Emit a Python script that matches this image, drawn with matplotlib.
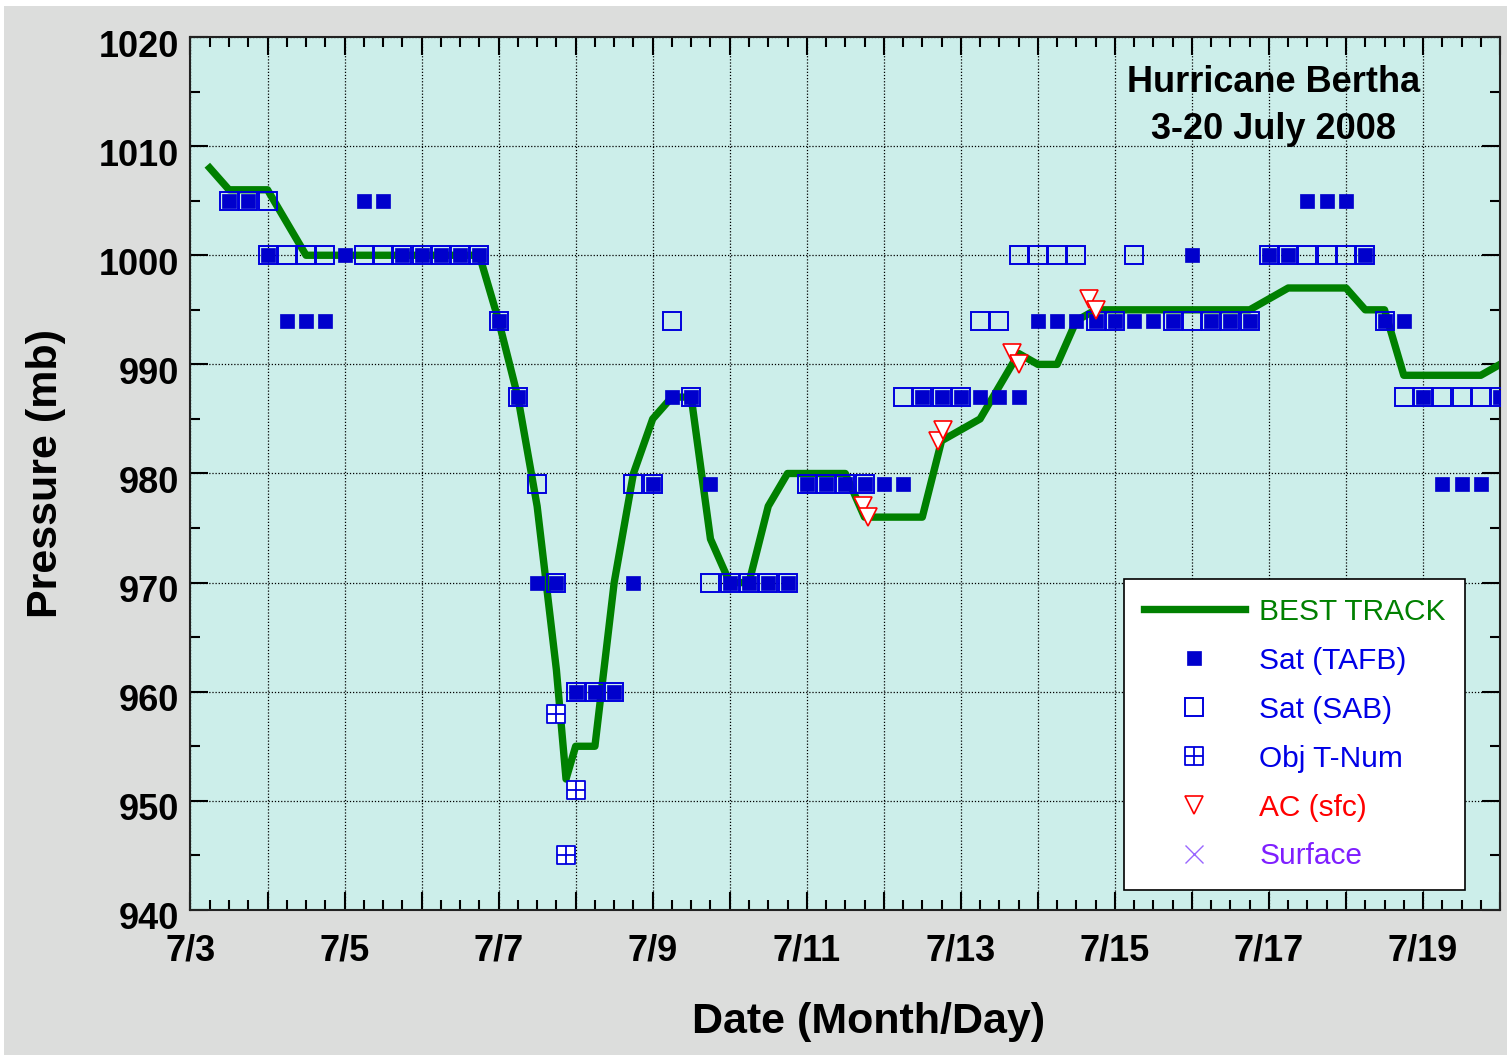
import matplotlib
matplotlib.use('Agg')
import matplotlib.pyplot as plt
import matplotlib.dates as mdates
from matplotlib.path import Path
from matplotlib.patches import Rectangle
from matplotlib.transforms import ScaledTranslation
import pandas as pd

plt.rcParams['font.family'] = ['Liberation Sans', 'DejaVu Sans']

# best track (time UTC, pressure mb)
best_time = ['07-03 06:00', '07-03 12:00', '07-03 18:00', '07-04 00:00', '07-04 06:00', '07-04 12:00',
             '07-04 18:00', '07-05 00:00', '07-05 06:00', '07-05 12:00', '07-05 18:00', '07-06 00:00',
             '07-06 06:00', '07-06 12:00', '07-06 18:00', '07-07 00:00', '07-07 06:00', '07-07 12:00',
             '07-07 18:00', '07-07 21:00', '07-08 00:00', '07-08 06:00', '07-08 12:00', '07-08 18:00',
             '07-09 00:00', '07-09 06:00', '07-09 12:00', '07-09 18:00', '07-10 00:00', '07-10 06:00',
             '07-10 12:00', '07-10 18:00', '07-11 00:00', '07-11 06:00', '07-11 12:00', '07-11 18:00',
             '07-12 00:00', '07-12 06:00', '07-12 12:00', '07-12 18:00', '07-13 00:00', '07-13 06:00',
             '07-13 12:00', '07-13 18:00', '07-14 00:00', '07-14 06:00', '07-14 12:00', '07-14 18:00',
             '07-15 00:00', '07-15 06:00', '07-15 12:00', '07-15 18:00', '07-16 00:00', '07-16 06:00',
             '07-16 12:00', '07-16 18:00', '07-17 00:00', '07-17 06:00', '07-17 12:00', '07-17 18:00',
             '07-18 00:00', '07-18 06:00', '07-18 12:00', '07-18 18:00', '07-19 00:00', '07-19 06:00',
             '07-19 12:00', '07-19 18:00', '07-20 00:00']
best_pres = [1008, 1006, 1006, 1006, 1003, 1000,
             1000, 1000, 1000, 1000, 1000, 1000,
             1000, 1000, 1000, 994, 987, 977,
             962, 952, 955, 955, 970, 980,
             985, 987, 987, 974, 970, 970,
             977, 980, 980, 980, 980, 976,
             976, 976, 976, 983, 984, 985,
             988, 991, 990, 990, 994, 995,
             995, 995, 995, 995, 995, 995,
             995, 995, 996, 997, 997, 997,
             997, 995, 995, 989, 989, 989,
             989, 989, 990]

# Sat (TAFB)
tafb_time = ['07-03 12:00', '07-03 18:00', '07-04 00:00', '07-04 06:00', '07-04 12:00', '07-04 18:00',
             '07-05 00:00', '07-05 06:00', '07-05 12:00', '07-05 18:00', '07-06 00:00', '07-06 06:00',
             '07-06 12:00', '07-06 18:00', '07-07 00:00', '07-07 06:00', '07-07 12:00', '07-07 18:00',
             '07-08 00:00', '07-08 06:00', '07-08 12:00', '07-08 18:00', '07-09 00:00', '07-09 06:00',
             '07-09 12:00', '07-09 18:00', '07-10 00:00', '07-10 06:00', '07-10 12:00', '07-10 18:00',
             '07-11 00:00', '07-11 06:00', '07-11 12:00', '07-11 18:00', '07-12 00:00', '07-12 06:00',
             '07-12 12:00', '07-12 18:00', '07-13 00:00', '07-13 06:00', '07-13 12:00', '07-13 18:00',
             '07-14 00:00', '07-14 06:00', '07-14 12:00', '07-14 18:00', '07-15 00:00', '07-15 06:00',
             '07-15 12:00', '07-15 18:00', '07-16 00:00', '07-16 06:00', '07-16 12:00', '07-16 18:00',
             '07-17 00:00', '07-17 06:00', '07-17 12:00', '07-17 18:00', '07-18 00:00', '07-18 06:00',
             '07-18 12:00', '07-18 18:00', '07-19 00:00', '07-19 06:00', '07-19 12:00', '07-19 18:00',
             '07-20 00:00']
tafb_pres = [1005, 1005, 1000, 994, 994, 994,
             1000, 1005, 1005, 1000, 1000, 1000,
             1000, 1000, 994, 987, 970, 970,
             960, 960, 960, 970, 979, 987,
             987, 979, 970, 970, 970, 970,
             979, 979, 979, 979, 979, 979,
             987, 987, 987, 987, 987, 987,
             994, 994, 994, 994, 994, 994,
             994, 994, 1000, 994, 994, 994,
             1000, 1000, 1005, 1005, 1005, 1000,
             994, 994, 987, 979, 979, 979,
             987]

# Sat (SAB)
sab_time = ['07-03 12:00', '07-03 18:00', '07-04 00:00', '07-04 00:00', '07-04 06:00', '07-04 12:00',
            '07-04 18:00', '07-05 06:00', '07-05 12:00', '07-05 18:00', '07-06 00:00', '07-06 06:00',
            '07-06 12:00', '07-06 18:00', '07-07 00:00', '07-07 06:00', '07-07 12:00', '07-07 18:00',
            '07-08 00:00', '07-08 06:00', '07-08 12:00', '07-08 18:00', '07-09 00:00', '07-09 06:00',
            '07-09 12:00', '07-09 18:00', '07-10 00:00', '07-10 06:00', '07-10 12:00', '07-10 18:00',
            '07-11 00:00', '07-11 06:00', '07-11 12:00', '07-11 18:00', '07-12 06:00', '07-12 12:00',
            '07-12 18:00', '07-13 00:00', '07-13 06:00', '07-13 12:00', '07-13 18:00', '07-14 00:00',
            '07-14 06:00', '07-14 12:00', '07-14 18:00', '07-15 00:00', '07-15 06:00', '07-15 18:00',
            '07-16 00:00', '07-16 06:00', '07-16 12:00', '07-16 18:00', '07-17 00:00', '07-17 06:00',
            '07-17 12:00', '07-17 18:00', '07-18 00:00', '07-18 06:00', '07-18 12:00', '07-18 18:00',
            '07-19 00:00', '07-19 06:00', '07-19 12:00', '07-19 18:00', '07-20 00:00']
sab_pres = [1005, 1005, 1005, 1000, 1000, 1000,
            1000, 1000, 1000, 1000, 1000, 1000,
            1000, 1000, 994, 987, 979, 970,
            960, 960, 960, 979, 979, 994,
            987, 970, 970, 970, 970, 970,
            979, 979, 979, 979, 987, 987,
            987, 987, 994, 994, 1000, 1000,
            1000, 1000, 994, 994, 1000, 994,
            994, 994, 994, 994, 1000, 1000,
            1000, 1000, 1000, 1000, 994, 987,
            987, 987, 987, 987, 987]

# Objective T-number
obj_time = ['07-07 18:00', '07-07 21:00', '07-08 00:00']
obj_pres = [958, 945, 951]

# aircraft surface
ac_time = ['07-11 17:30', '07-11 19:00', '07-12 17:00', '07-12 18:30',
           '07-13 16:00', '07-13 18:00', '07-14 16:00', '07-14 18:00']
ac_pres = [977, 976, 983, 984, 991, 990, 996, 995]

# surface obs (none)
sfc_time = []
sfc_pres = []


def to_dt(lst):
    return pd.to_datetime(['2008-' + s for s in lst])


tnum_marker = Path([(-0.5, -0.5), (0.5, -0.5), (0.5, 0.5), (-0.5, 0.5), (-0.5, -0.5),
                    (0, -0.5), (0, 0.5), (-0.5, 0), (0.5, 0)],
                   [Path.MOVETO, Path.LINETO, Path.LINETO, Path.LINETO, Path.CLOSEPOLY,
                    Path.MOVETO, Path.LINETO, Path.MOVETO, Path.LINETO])

fig = plt.figure(figsize=(15.07, 10.55), dpi=100, facecolor='white')
fig.patches.append(Rectangle((4 / 1507, 0), 1, 1 - 6 / 1055, transform=fig.transFigure,
                             facecolor='#DCDDDC', edgecolor='none', zorder=-10))
ax = fig.add_axes([0.1264, 0.1375, 0.8690, 0.8274])
ax.set_facecolor('#CCEEEA')

blue = '#0000CC'
ax.plot(to_dt(best_time), best_pres, color='#008000', linewidth=5.3, label='BEST TRACK', zorder=2)
ax.plot(to_dt(tafb_time), tafb_pres, linestyle='none', marker='s', markersize=9.5,
        markerfacecolor=blue, markeredgecolor=blue, markeredgewidth=0.5, label='Sat (TAFB)', zorder=4)
ax.plot(to_dt(sab_time), sab_pres, linestyle='none', marker='s', markersize=12.5,
        markerfacecolor='none', markeredgecolor='#0000DD', markeredgewidth=1.4, label='Sat (SAB)', zorder=3)
ax.plot(to_dt(obj_time), obj_pres, linestyle='none', marker=tnum_marker, markersize=12.5,
        markerfacecolor='white', markeredgecolor='#0000DD', markeredgewidth=1.3, label='Obj T-Num', zorder=3)
ax.plot(to_dt(ac_time), ac_pres, linestyle='none', marker='v', markersize=13,
        markerfacecolor='white', markeredgecolor='#FF0000', markeredgewidth=1.2, label='AC (sfc)', zorder=5)
ax.plot(to_dt(sfc_time), sfc_pres, linestyle='none', marker='x', markersize=13,
        markeredgecolor='#9966FF', markeredgewidth=1.0, label='Surface')

# axes
days = pd.date_range('2008-07-03', '2008-07-20', freq='D')
quarter = pd.date_range('2008-07-03', '2008-07-20', freq='6h')
ax.set_xlim(days[0], days[-1])
ax.set_ylim(940, 1020)
ax.set_xticks(mdates.date2num(days))
ax.set_xticklabels([f'{d.month}/{d.day}' if d.day % 2 == 1 else '' for d in days],
                   fontsize=26, fontweight='bold')
ax.set_xticks(mdates.date2num(quarter), minor=True)
yt = list(range(940, 1021, 10))
ax.set_yticks(yt)
ax.set_yticklabels([str(v) for v in yt], fontsize=26, fontweight='bold')
ax.set_yticks(list(range(945, 1020, 10)), minor=True)

ax.tick_params(which='major', direction='in', length=13, width=1.5, top=True, right=True)
ax.tick_params(which='minor', direction='in', length=7, width=1.5, top=True, right=True)
ax.tick_params(axis='x', which='major', pad=17)
ax.tick_params(axis='y', which='major', pad=8)
ax.grid(which='major', color='black', linestyle=(0, (1, 1.5)), linewidth=0.9)
for s in ax.spines.values():
    s.set_linewidth(1.5)
    s.set_color('#222222')

# y labels sit a little below their ticks in the original
shift = ScaledTranslation(0, -6 / 100, fig.dpi_scale_trans)
for tick in ax.yaxis.get_major_ticks():
    tick.label1.set_transform(tick.label1.get_transform() + shift)

ax.set_xlabel('Date (Month/Day)', fontsize=31, fontweight='bold')
ax.xaxis.set_label_coords(0.518, -0.128)
ax.xaxis.label.set_va('center')
ax.set_ylabel('Pressure (mb)', fontsize=31, fontweight='bold', labelpad=24)

ax.text(0.8267, 0.921, 'Hurricane Bertha\n3-20 July 2008', transform=ax.transAxes,
        ha='center', va='center', fontsize=26, fontweight='bold', linespacing=1.45)

leg = ax.legend(loc='lower right', bbox_to_anchor=(0.9733, 0.023), fontsize=21.5,
                handlelength=3.4, handletextpad=0.47, labelspacing=0.7, borderpad=0.65,
                fancybox=False, framealpha=1, edgecolor='black', borderaxespad=0)
leg.get_frame().set_linewidth(1.2)
for txt, c in zip(leg.get_texts(), ['#008000', '#0000E6', '#0000E6', '#0000E6', '#FF0000', '#7F1FFF']):
    txt.set_color(c)

plt.savefig('out.png', dpi=100, facecolor=fig.get_facecolor())
